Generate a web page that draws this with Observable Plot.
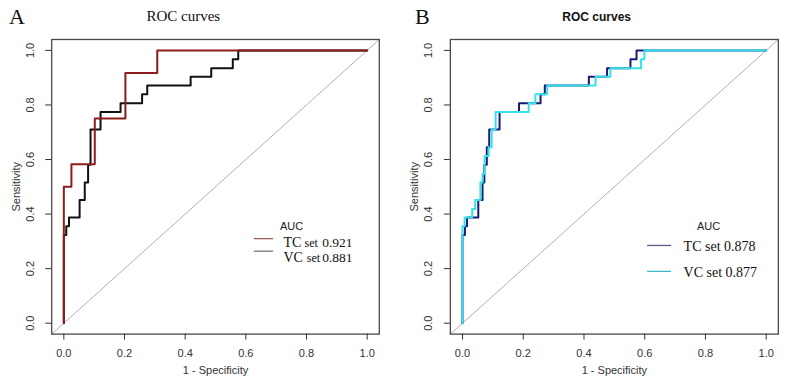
<!DOCTYPE html>
<html>
<head>
<meta charset="utf-8">
<script src="https://cdn.jsdelivr.net/npm/d3@7"></script>
<script src="https://cdn.jsdelivr.net/npm/@observablehq/plot@0.6"></script>
<style>
  body { margin: 0; background: #fff; }
  #fig { position: relative; width: 787px; height: 386px; overflow: hidden; background: #fff; }
  #fig > svg, #fig > figure, #fig > div { position: absolute; top: 0; margin: 0; }
</style>
</head>
<body>
<div id="fig"></div>
<script>
// Axis ticks shared by both panels
const xTicks = [0, 0.2, 0.4, 0.6, 0.8, 1.0];
const yTicks = [0, 0.2, 0.4, 0.6, 0.8, 1.0];

// ROC corner points (1 - specificity, sensitivity), joined as a step-after staircase
// Panel A
const tcA = [[0,0],[0,0.5],[0.025,0.583],[0.102,0.75],[0.203,0.917],[0.308,1],[1,1]];
const vcA = [[0,0],[0,0.323],[0.008,0.355],[0.017,0.387],[0.052,0.452],[0.069,0.516],[0.08,0.581],
             [0.088,0.71],[0.121,0.774],[0.187,0.806],[0.258,0.839],[0.275,0.871],[0.418,0.903],
             [0.486,0.935],[0.557,0.968],[0.575,1],[1,1]];
// Panel B
const tcB = [[0,0],[0,0.323],[0.008,0.355],[0.015,0.387],[0.052,0.452],[0.066,0.516],[0.072,0.581],
             [0.08,0.645],[0.088,0.71],[0.122,0.774],[0.186,0.806],[0.257,0.839],[0.271,0.871],
             [0.416,0.903],[0.476,0.935],[0.553,0.968],[0.573,1],[1,1]];
const vcB = [[0,0],[0,0.355],[0.007,0.387],[0.032,0.419],[0.042,0.452],[0.059,0.516],[0.066,0.548],
             [0.073,0.613],[0.086,0.645],[0.096,0.71],[0.109,0.774],[0.218,0.806],[0.24,0.839],
             [0.279,0.871],[0.438,0.903],[0.487,0.935],[0.588,0.968],[0.599,1],[1,1]];

// Set names and AUC values
const setNames = ["TC", "VC"];
const aucA = [0.921, 0.881];
const aucB = [0.878, 0.877];

const pad = 0.04;                      // R-style 4% axis extension
const domain = [-pad, 1 + pad];
const chance = domain.map(v => [v, v]);
const fmt = d3.format(".1f");
const sans = "'Liberation Sans', Arial, sans-serif";
const serif = "'Liberation Serif', 'Times New Roman', serif";

// curves are given in legend order; drawOrder says which is painted first
function panel({left, marginLeft, marginRight, curves, drawOrder, legend}) {
  const marks = [
    Plot.line(chance, {x: d => d[0], y: d => d[1], stroke: "#b0b0b0", strokeWidth: 1}),
    ...drawOrder.map(i => curves[i]).map(c => Plot.line(c.data, {x: d => d[0], y: d => d[1],
      curve: "step-after", stroke: c.color, strokeWidth: 2})),
    Plot.frame({stroke: "#4a4a4a", strokeWidth: 1.3}),
    Plot.axisX(xTicks, {tickSize: 6, tickPadding: 9.5, fontSize: 11, tickFormat: fmt,
      label: "1 - Specificity", labelAnchor: "center", labelArrow: "none", labelOffset: 40}),
    Plot.axisY(yTicks, {tickSize: 6, tickPadding: 12, tickRotate: -90, textAnchor: "middle",
      fontSize: 11, tickFormat: fmt,
      label: "Sensitivity", labelAnchor: "center", labelArrow: "none", labelOffset: 40}),
    // legend
    Plot.text(["AUC"], {x: legend.aucX, y: legend.aucY, text: d => d, fontSize: 11,
      fontFamily: sans, fill: "#222", textAnchor: "middle"}),
    ...curves.flatMap((c, i) => {
      const row = legend.rows[i];
      return [
        Plot.link([c], {x1: legend.lineX1, x2: legend.lineX2, y1: row.lineY, y2: row.lineY,
          stroke: c.legendColor, strokeWidth: 1.3}),
        ...row.parts.map(p => Plot.text([p.text(c)], {x: p.x, y: row.textY, text: d => d,
          textAnchor: p.anchor || "start", lineAnchor: "bottom",
          fontFamily: serif, fontSize: p.size, fill: "#111"}))
      ];
    })
  ];
  const chart = Plot.plot({
    width: 393, height: 386,
    marginLeft, marginRight, marginTop: 39, marginBottom: 52.4,
    x: {domain}, y: {domain},
    style: {fontFamily: sans, color: "#333", background: "transparent", overflow: "visible"},
    marks
  });
  chart.style.left = left + "px";
  return chart;
}

const fig = document.getElementById("fig");

fig.append(panel({
  left: 0, marginLeft: 51.2, marginRight: 14.2,
  curves: [
    {data: tcA, color: "#8e1c1c", legendColor: "#a25a62", name: setNames[0], auc: aucA[0]},
    {data: vcA, color: "#111111", legendColor: "#777777", name: setNames[1], auc: aucA[1]}
  ],
  drawOrder: [1, 0],
  legend: {
    aucX: 0.751, aucY: 0.355, lineX1: 0.626, lineX2: 0.69,
    rows: [
      {lineY: 0.31, textY: 0.281, parts: [
        {x: 0.724, size: 14, text: c => c.name},
        {x: 0.7937, size: 12, text: () => "set"},
        {x: 0.952, size: 13.5, anchor: "end", text: c => c.auc.toFixed(3)}]},
      {lineY: 0.264, textY: 0.223, parts: [
        {x: 0.724, size: 14, text: c => c.name},
        {x: 0.801, size: 12, text: () => "set"},
        {x: 0.952, size: 13.5, anchor: "end", text: c => c.auc.toFixed(3)}]}
    ]
  }
}));

fig.append(panel({
  left: 394, marginLeft: 55.85, marginRight: 9.15,
  curves: [
    {data: tcB, color: "#1a1a78", legendColor: "#5a5e80", name: setNames[0], auc: aucB[0]},
    {data: vcB, color: "#33e2ea", legendColor: "#3cbcc8", name: setNames[1], auc: aucB[1]}
  ],
  drawOrder: [0, 1],
  legend: {
    aucX: 0.81, aucY: 0.355, lineX1: 0.608, lineX2: 0.687,
    rows: [
      {lineY: 0.285, textY: 0.266, parts: [
        {x: 0.728, size: 14, text: c => `${c.name} set ${c.auc.toFixed(3)}`}]},
      {lineY: 0.19, textY: 0.171, parts: [
        {x: 0.728, size: 14, text: c => `${c.name} set ${c.auc.toFixed(3)}`}]}
    ]
  }
}));

// Panel tags and titles
const over = d3.select(fig).append("svg")
  .attr("width", 787).attr("height", 386)
  .style("left", "0px").style("pointer-events", "none");
over.append("text").attr("x", 9).attr("y", 24).attr("font-family", serif)
  .attr("font-size", 22).attr("fill", "#111").text("A");
over.append("text").attr("x", 415).attr("y", 24).attr("font-family", serif)
  .attr("font-size", 22).attr("fill", "#111").text("B");
over.append("text").attr("x", 183.3).attr("y", 21).attr("text-anchor", "middle")
  .attr("font-family", serif).attr("font-size", 15).attr("fill", "#111").text("ROC curves");
over.append("text").attr("x", 596.7).attr("y", 20.7).attr("text-anchor", "middle")
  .attr("font-family", sans).attr("font-weight", "bold").attr("font-size", 12)
  .attr("fill", "#111").text("ROC curves");
</script>
</body>
</html>
